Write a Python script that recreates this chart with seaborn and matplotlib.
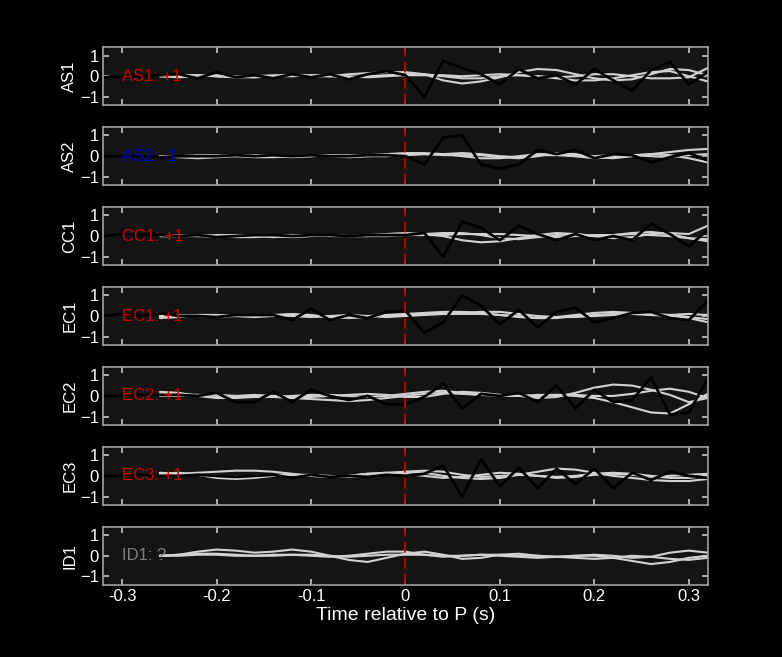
import numpy as np
import matplotlib.pyplot as plt
import seaborn as sns

stations = ['AS1', 'AS2', 'CC1', 'EC1', 'EC2', 'EC3', 'ID1']
labels = ['AS1: +1', 'AS2: -1', 'CC1: +1', 'EC1: +1', 'EC2: +1', 'EC3: +1', 'ID1: ?']
label_colors = ['#cc0000', '#0000cc', '#cc0000', '#cc0000', '#cc0000', '#cc0000', '#808080']

# black (observed) traces sampled every 0.02 s from -0.32 s
t_black = np.round(np.arange(33) * 0.02 - 0.32, 2)
black = {
    'AS1': [-0.05, -0.02, 0.0, 0.05, 0.1, -0.1, 0.2, -0.05, 0.05, -0.1, 0.1, -0.05, 0.1, -0.15, 0.1, 0.25, 0.05,
            -1.0, 0.75, 0.4, 0.1, -0.4, 0.35, -0.1, 0.05, -0.4, 0.35, -0.2, -0.7, 0.3, 0.7, -0.4, 0.2],
    'AS2': [0.0, 0.0, 0.0, -0.05, 0.0, 0.0, 0.0, 0.05, 0.0, 0.05, 0.0, 0.05, 0.0, 0.0, 0.05, 0.05, 0.0,
            -0.4, 0.9, 1.0, -0.4, -0.6, -0.4, 0.3, 0.1, 0.3, -0.1, 0.1, 0.05, -0.3, -0.05, 0.15, -0.2],
    'CC1': [0.0, 0.1, 0.05, 0.05, 0.0, 0.05, -0.05, 0.0, 0.05, 0.05, 0.0, 0.05, 0.05, 0.0, 0.05, 0.05, 0.05,
            0.15, -1.0, 0.7, 0.4, -0.2, 0.5, 0.1, -0.2, 0.1, -0.2, 0.0, -0.2, 0.6, 0.1, -0.5, 0.3],
    'EC1': [0.0, 0.1, 0.0, 0.15, 0.0, 0.0, -0.05, 0.05, 0.05, 0.05, -0.2, 0.35, -0.2, 0.05, -0.1, 0.2, 0.25,
            -0.8, -0.3, 1.0, 0.5, -0.4, 0.3, -0.55, 0.2, 0.4, -0.3, -0.1, 0.15, 0.2, -0.1, -0.2, 0.75],
    'EC2': [0.0, 0.0, 0.05, 0.05, 0.05, 0.0, 0.15, -0.3, -0.3, 0.2, -0.3, 0.3, 0.0, -0.2, 0.0, -0.4, -0.4,
            -0.05, 0.6, -0.6, 0.1, 0.0, 0.15, -0.3, 0.5, -0.6, 0.3, -0.3, -0.2, 0.9, -0.9, -0.8, 0.85],
    'EC3': [0.0, 0.0, 0.05, 0.0, 0.0, 0.05, 0.0, -0.05, 0.0, 0.05, -0.1, 0.05, -0.05, 0.0, -0.05, 0.05, 0.0,
            0.1, 0.5, -1.0, 0.8, -0.5, 0.4, -0.6, 0.35, -0.4, 0.35, -0.6, 0.15, -0.2, 0.2, 0.0, -0.1],
}

# grey (synthetic) traces sampled every 0.02 s from -0.26 s
t_grey = np.round(np.arange(30) * 0.02 - 0.26, 2)
grey = {
    'AS1': [[0, 0.05, 0.05, 0, -0.05, 0, 0.05, 0.05, 0, 0, 0.1, 0.15, 0.2, 0.2, 0.1, -0.2, -0.35, -0.25, -0.05, 0.2, 0.35, 0.3, 0.1, -0.1, -0.2, -0.15, 0.1, 0.35, 0.3, 0.05],
            [0, -0.05, 0, 0.05, 0, -0.05, 0, 0.05, 0.05, 0, -0.05, 0, 0.05, 0.1, 0.1, 0, -0.1, -0.1, 0, 0.05, 0, -0.1, -0.2, -0.2, -0.1, 0.05, 0.2, 0.25, 0.0, -0.25],
            [0, 0, 0.05, 0, -0.05, -0.05, 0, 0, 0.05, 0.05, 0, -0.05, 0, 0.05, 0.05, 0.05, 0, 0.05, 0.1, 0.05, 0, -0.05, 0, 0.1, 0.1, 0, -0.1, -0.1, -0.05, 0.4]],
    'AS2': [[0, -0.05, -0.1, -0.05, 0, 0.05, 0.05, 0, 0, 0.05, 0.05, 0.05, 0.1, 0.15, 0.15, 0.1, 0, -0.1, -0.1, 0, 0.1, 0.1, 0, -0.1, -0.05, 0.05, 0.1, 0.2, 0.3, 0.35],
            [0, 0, 0.05, 0.05, 0, -0.05, -0.05, 0, 0.05, 0, -0.05, 0, 0.05, 0.1, 0.1, 0.05, 0.05, 0.05, -0.05, -0.1, 0, 0.15, 0.1, -0.05, -0.1, 0, 0.1, 0.05, -0.1, -0.3],
            [0, 0, 0, 0, 0.05, 0, 0, -0.05, 0, 0.05, 0, 0, 0, 0.05, 0.1, 0.1, 0.15, 0.1, 0, -0.05, 0.05, 0.05, 0, 0, 0.05, 0.05, 0, -0.05, 0.05, 0.1]],
    'CC1': [[0, 0, 0.05, 0, -0.05, -0.05, 0, 0.05, 0.05, 0, 0, 0.05, 0.1, 0.15, 0.1, 0, -0.2, -0.3, -0.25, -0.1, 0.05, 0.15, 0.1, 0, 0.05, 0.15, 0.2, 0.1, -0.1, -0.25],
            [0, 0.05, 0, -0.05, 0, 0.05, 0, -0.05, 0, 0.05, 0, 0, 0.05, 0.05, 0.1, 0.15, 0.15, 0.05, -0.1, -0.15, -0.05, 0.05, 0.1, 0, -0.1, -0.05, 0.1, 0.15, 0.1, 0.5],
            [0, 0, 0, 0.05, 0.05, 0, -0.05, 0, 0.05, 0.05, 0, 0, 0, 0.05, 0.05, 0.05, 0.1, 0.1, 0.1, 0.05, 0, -0.05, 0, 0.05, 0.05, 0.1, 0.05, 0, -0.1, -0.15]],
    'EC1': [[-0.1, -0.05, 0.05, 0.05, 0, 0, 0.05, 0.1, 0.05, -0.05, -0.1, -0.05, 0.05, 0.1, 0.15, 0.2, 0.2, 0.15, 0.05, -0.05, -0.1, -0.05, 0.05, 0.15, 0.2, 0.15, 0.05, 0, -0.1, -0.3],
            [0, 0.05, 0, -0.05, 0, 0.05, 0.05, 0, -0.05, 0, 0.05, 0, -0.05, 0, 0.05, 0.1, 0.1, 0.1, 0.05, 0, -0.1, -0.1, 0, 0.05, 0.1, 0.1, 0.05, 0.05, 0.1, 0.05],
            [0, 0, 0.05, 0.05, 0, -0.05, 0, 0.05, 0, -0.05, -0.05, 0, 0.05, 0.05, 0.1, 0.1, 0.15, 0.2, 0.2, 0.1, 0, -0.05, -0.05, 0, 0.05, 0.1, 0.1, 0.05, -0.05, -0.15]],
    'EC2': [[0.2, 0.15, 0, -0.1, -0.1, -0.05, -0.05, -0.1, -0.15, -0.2, -0.25, -0.2, -0.1, 0, 0.1, 0.15, 0.1, 0.05, 0.05, 0, -0.1, -0.05, 0.15, 0.4, 0.55, 0.5, 0.3, 0.05, -0.3, -0.1],
            [0, 0, 0.05, 0.05, 0, -0.05, -0.05, 0, 0.05, 0.05, 0, -0.05, 0, 0.1, 0.2, 0.25, 0.15, 0.05, 0, 0, 0.05, 0.05, 0, -0.1, -0.3, -0.55, -0.8, -0.85, -0.4, 0.1],
            [0.1, 0.1, 0.05, 0, 0, 0.05, 0, -0.05, -0.05, 0, 0.05, 0.1, 0.05, -0.05, -0.05, 0.1, 0.2, 0.15, 0.05, 0, 0, 0.05, 0.05, 0, 0, 0.1, 0.25, 0.35, 0.2, -0.1]],
    'EC3': [[0.1, 0.15, 0.05, -0.1, -0.15, -0.1, 0, 0.05, 0, -0.05, 0, 0.1, 0.15, 0.2, 0.15, 0.0, -0.1, -0.15, -0.1, 0.05, 0.2, 0.35, 0.3, 0.15, 0, -0.1, -0.2, -0.25, -0.25, -0.15],
            [0.05, 0.1, 0.15, 0.2, 0.25, 0.25, 0.2, 0.1, 0, -0.05, 0, 0.1, 0.15, 0.1, 0.0, -0.1, -0.05, 0.05, 0.15, 0.1, 0, -0.1, -0.05, 0.05, 0.1, 0.05, -0.05, 0, 0.05, 0.1],
            [0.15, 0.1, 0.05, 0, -0.05, 0, 0.05, 0.05, 0.05, 0, -0.05, 0, 0.1, 0.2, 0.25, 0.2, 0.05, -0.05, 0, 0.05, 0, -0.05, 0, 0.1, 0.15, 0.1, 0, -0.1, -0.1, 0.0]],
    'ID1': [[0, 0.05, 0.2, 0.3, 0.25, 0.15, 0.2, 0.3, 0.2, 0, -0.2, -0.3, -0.1, 0.1, 0.2, 0.05, -0.15, -0.1, 0.05, 0.1, 0, -0.05, 0, 0.05, 0, -0.1, -0.05, 0.15, 0.25, 0.15],
            [0, 0, 0.05, 0.05, 0, 0, 0.05, 0.05, 0, -0.05, 0, 0.1, 0.2, 0.2, 0.05, -0.05, 0, 0.05, 0, -0.05, -0.1, -0.05, 0, 0, -0.1, -0.25, -0.4, -0.3, -0.1, 0.0],
            [0, 0.05, 0.1, 0.1, 0.05, 0, 0, 0.05, 0.05, 0, -0.05, 0, 0.05, 0.05, 0.05, 0, 0, 0.05, 0.05, 0, 0, -0.05, -0.1, -0.15, -0.1, 0, -0.05, -0.15, -0.2, -0.1]],
}

sns.set_theme(style='dark')
plt.rcParams['font.family'] = ['Liberation Sans', 'DejaVu Sans']
fig, axes = plt.subplots(len(stations), 1, figsize=(7.82, 6.57), dpi=100, sharex=True)
fig.patch.set_facecolor('black')
fig.subplots_adjust(left=0.132, right=0.905, top=0.928, bottom=0.11, hspace=0.38)

for ax, st, lab, col in zip(axes, stations, labels, label_colors):
    ax.set_facecolor('#141414')
    for tr in grey[st]:
        sns.lineplot(x=t_grey, y=tr, ax=ax, color='#d2d2d2', lw=1.5)
    if st in black:
        sns.lineplot(x=t_black, y=black[st], ax=ax, color='black', lw=2)
    ax.axvline(0, color='#cc0000', ls='--', lw=1.3, dashes=(6, 3))
    ax.text(-0.30, 0, lab, color=col, fontsize=12, va='center', ha='left')
    ax.set_xlim(-0.32, 0.32)
    ax.set_ylim(-1.4, 1.4)
    ax.set_yticks([-1, 0, 1])
    ax.set_ylabel(st, color='white', fontsize=12, labelpad=2)
    ax.grid(False)
    for s in ax.spines.values():
        s.set_color('#a0a0a0')
        s.set_linewidth(1.2)
    ax.tick_params(direction='in', top=True, right=True, bottom=True, left=True,
                   colors='#c0c0c0', labelcolor='white', labelsize=12, length=4, pad=3)

axes[-1].set_xticks([-0.3, -0.2, -0.1, 0, 0.1, 0.2, 0.3])
axes[-1].set_xticklabels(['-0.3', '-0.2', '-0.1', '0', '0.1', '0.2', '0.3'])
axes[-1].set_xlabel('Time relative to P (s)', color='white', fontsize=14, labelpad=2)

fig.savefig('out.png', facecolor='black')
